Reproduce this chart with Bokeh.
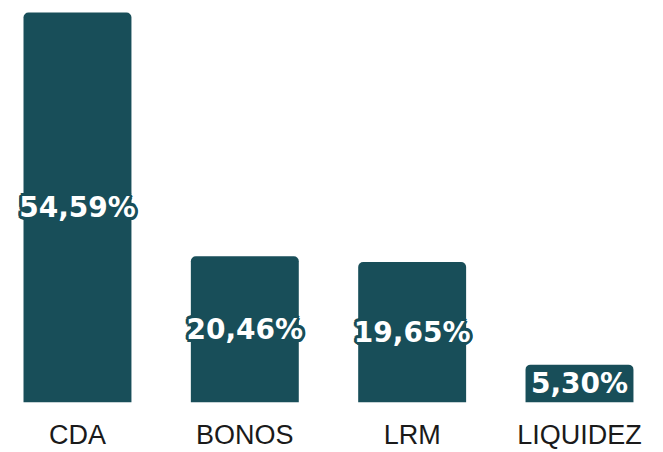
import math
from bokeh.plotting import figure
from bokeh.models import ColumnDataSource, Range1d, FixedTicker
from bokeh.core.properties import value
from bokeh.embed import file_html
from bokeh.resources import INLINE

categories = ["CDA", "BONOS", "LRM", "LIQUIDEZ"]
values = [54.59, 20.46, 19.65, 5.30]

xs = list(range(len(categories)))
labels = [f"{v:.2f}".replace(".", ",") + "%" for v in values]
mids = [v / 2 for v in values]

src = ColumnDataSource(dict(x=xs, top=values, label=labels, mid=mids))

BAR = "#184e59"

p = figure(width=663, height=452, output_backend="svg", toolbar_location=None,
           x_range=Range1d(-0.460, 3.502), y_range=Range1d(0, 56.27),
           min_border=0, outline_line_color=None)

p.vbar(x="x", top="top", bottom=0, width=0.645, source=src,
       fill_color=BAR, line_color=None, border_radius=[5, 5, 0, 0])

common = dict(x="x", y="mid", text="label", source=src,
              text_align="center", text_baseline="middle",
              text_font=value("DejaVu Sans"), text_font_style="bold",
              text_font_size="28px")

# dark halo around the value labels
for k in range(12):
    a = 2 * math.pi * k / 12
    p.text(x_offset=3 * math.cos(a), y_offset=3 * math.sin(a),
           text_color=BAR, **common)

p.text(text_color="white", **common)

p.yaxis.visible = False
p.grid.visible = False
xa = p.xaxis[0]
xa.ticker = FixedTicker(ticks=xs)
xa.major_label_overrides = {i: c for i, c in enumerate(categories)}
xa.axis_line_color = None
xa.major_tick_line_color = None
xa.minor_tick_line_color = None
xa.major_label_standoff = 11
xa.major_label_text_font = "Liberation Sans"
xa.major_label_text_font_size = "27px"
xa.major_label_text_color = "#1a1a1a"

open("out.html", "w").write(file_html(p, INLINE))
